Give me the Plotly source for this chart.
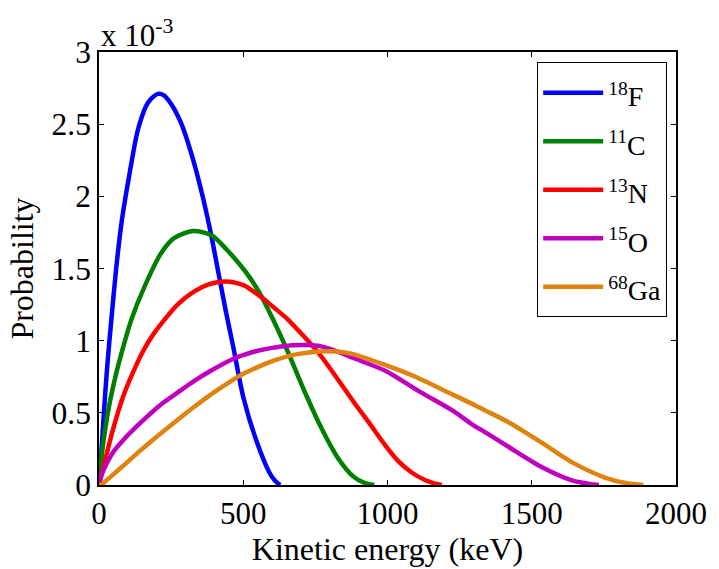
import plotly.graph_objects as go

# Kinetic energy (keV) and probability (units of 1e-3)
e_f18 = [0, 5, 16, 28, 43, 59, 79, 107, 136, 170, 204, 225, 250, 284, 318, 352, 386, 414, 440, 466, 500, 545, 591, 610, 628]
p_f18 = [0.02, 0.13, 0.47, 0.81, 1.15, 1.49, 1.83, 2.17, 2.47, 2.65, 2.71, 2.70, 2.64, 2.51, 2.31, 2.06, 1.76, 1.47, 1.20, 0.95, 0.61, 0.31, 0.085, 0.03, 0.0]

e_c11 = [0, 5, 28, 51, 79, 113, 159, 215, 260, 326, 390, 443, 511, 557, 600, 653, 710, 767, 824, 881, 920, 954]
p_c11 = [0.0, 0.13, 0.47, 0.70, 0.92, 1.15, 1.38, 1.605, 1.71, 1.76, 1.73, 1.63, 1.47, 1.33, 1.16, 0.93, 0.66, 0.41, 0.20, 0.06, 0.015, 0.0]

e_n13 = [0, 16, 45, 85, 136, 159, 187, 221, 272, 329, 380, 437, 500, 557, 600, 653, 710, 767, 825, 881, 940, 994, 1040, 1085, 1130, 1165, 1188]
p_n13 = [0.0, 0.13, 0.36, 0.62, 0.86, 0.95, 1.04, 1.13, 1.25, 1.34, 1.39, 1.41, 1.385, 1.31, 1.24, 1.15, 1.03, 0.90, 0.74, 0.58, 0.42, 0.27, 0.16, 0.085, 0.035, 0.01, 0.0]

e_o15 = [0, 5, 22, 50, 79, 102, 159, 216, 272, 329, 386, 466, 500, 550, 600, 670, 720, 767, 820, 881, 994, 1108, 1222, 1301, 1335, 1415, 1529, 1642, 1700, 1733]
p_o15 = [0.02, 0.05, 0.13, 0.23, 0.30, 0.35, 0.46, 0.56, 0.64, 0.72, 0.79, 0.875, 0.90, 0.93, 0.95, 0.968, 0.97, 0.962, 0.93, 0.88, 0.79, 0.65, 0.52, 0.41, 0.37, 0.27, 0.13, 0.03, 0.008, 0.0]

e_ga68 = [0, 11, 22, 79, 147, 216, 272, 329, 386, 466, 500, 560, 618, 670, 720, 767, 824, 881, 994, 1108, 1222, 1301, 1335, 1415, 1529, 1642, 1756, 1830, 1887]
p_ga68 = [0.0, 0.005, 0.025, 0.125, 0.245, 0.36, 0.45, 0.54, 0.625, 0.73, 0.77, 0.825, 0.87, 0.90, 0.917, 0.925, 0.925, 0.907, 0.83, 0.74, 0.63, 0.555, 0.52, 0.44, 0.30, 0.155, 0.05, 0.012, 0.0]

isotopes = [("18", "F"), ("11", "C"), ("13", "N"), ("15", "O"), ("68", "Ga")]
colors = ["#0000FF", "#008000", "#FF0000", "#BF00BF", "#E0820E"]

x_ticks = [0, 500, 1000, 1500, 2000]
y_ticks = [0, 0.5, 1, 1.5, 2, 2.5, 3]
y_ticklabels = ["0", "0.5", "1", "1.5", "2", "2.5", "3"]

series = [(e_f18, p_f18), (e_c11, p_c11), (e_n13, p_n13), (e_o15, p_o15), (e_ga68, p_ga68)]

FONT = "Times New Roman, Liberation Serif, DejaVu Serif, serif"

fig = go.Figure()
for (ex, py), (mass, sym), col in zip(series, isotopes, colors):
    label = '<span style="font-size:28px"><sup>%s</sup>%s</span>' % (mass, sym)
    fig.add_trace(go.Scatter(x=ex, y=py, mode="lines", name=label,
                             line=dict(color=col, width=4.5, shape="spline", smoothing=0.8)))

fig.update_layout(
    width=719, height=569,
    margin=dict(l=98.5, r=34, t=51.5, b=76.5),
    paper_bgcolor="white", plot_bgcolor="white",
    font=dict(family=FONT, size=31, color="black"),
    showlegend=True,
    legend=dict(x=0.9847, y=0.976, xanchor="right", yanchor="top",
                bgcolor="white", bordercolor="black", borderwidth=1,
                font=dict(family=FONT, size=35, color="black"),
                itemwidth=60, tracegroupgap=0),
    xaxis=dict(range=[0, 2000], tickvals=x_ticks, ticktext=[str(v) for v in x_ticks],
               showline=True, linecolor="black", linewidth=1.5, mirror="ticks",
               ticks="inside", ticklen=5, tickcolor="black", showgrid=False, zeroline=False,
               tickfont=dict(family=FONT, size=31),
               title=dict(text="Kinetic energy (keV)", font=dict(family=FONT, size=32), standoff=4)),
    yaxis=dict(range=[0, 3], tickvals=y_ticks, ticktext=y_ticklabels,
               showline=True, linecolor="black", linewidth=1.5, mirror="ticks",
               ticks="inside", ticklen=5, tickcolor="black", showgrid=False, zeroline=False,
               tickfont=dict(family=FONT, size=31.5),
               title=dict(text="Probability", font=dict(family=FONT, size=32), standoff=8)),
)

fig.add_annotation(x=0, y=1, xref="paper", yref="paper", xanchor="left", yanchor="bottom",
                   text="x 10<sup>-3</sup>", showarrow=False, yshift=-3,
                   font=dict(family=FONT, size=31, color="black"))

fig.write_html("out.html")
